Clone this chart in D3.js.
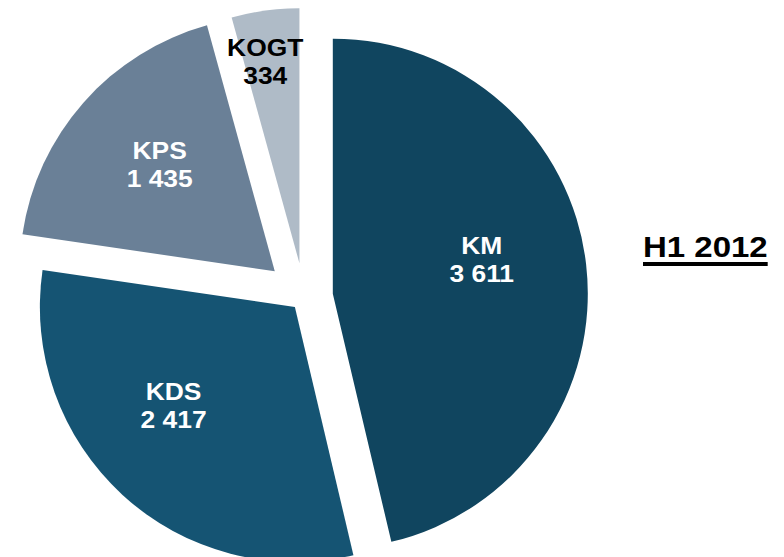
<!DOCTYPE html>
<html>
<head>
<meta charset="utf-8">
<script src="https://cdn.jsdelivr.net/npm/d3@7"></script>
<style>
  html, body { margin: 0; padding: 0; background: #ffffff; }
  svg { display: block; }
</style>
</head>
<body>
<svg id="chart" width="784" height="557"></svg>
<script>
// ---- data ----
const categories = ["KM", "KDS", "KPS", "KOGT"];
const values = [3611, 2417, 1435, 334];
const valueLabels = ["3 611", "2 417", "1 435", "334"];
const title = "H1 2012";

// ---- styling ----
const colors = ["#10455f", "#155473", "#6a8097", "#afbbc7"];
const labelColors = ["#ffffff", "#ffffff", "#ffffff", "#000000"];
const explode = [29, 13.5, 39, 34];          // px offset of each slice along its bisector
const labelRadius = [153, 156, 157, 205];     // distance of label from slice apex
const labelAngleShift = [-6.6, 8.5, 1.4, -1.9]; // degrees from bisector
const textStretch = 1.1;

const W = 784, H = 557;
const cx = 304, cy = 297, R = 255;

const svg = d3.select("#chart");

const data = categories.map((c, i) => ({ name: c, value: values[i], label: valueLabels[i], i }));

const pie = d3.pie().sort(null).value(d => d.value).startAngle(0).endAngle(2 * Math.PI);
const arcs = pie(data);
const arc = d3.arc().innerRadius(0).outerRadius(R);

const g = svg.append("g").attr("transform", `translate(${cx},${cy})`);

const slices = g.selectAll("g.slice")
  .data(arcs)
  .join("g")
  .attr("class", "slice")
  .attr("transform", d => {
    const mid = (d.startAngle + d.endAngle) / 2;
    const e = explode[d.data.i];
    return `translate(${e * Math.sin(mid)},${-e * Math.cos(mid)})`;
  });

slices.append("path")
  .attr("d", arc)
  .attr("fill", d => colors[d.data.i]);

const labels = slices.append("text")
  .attr("text-anchor", "middle")
  .attr("font-family", "Liberation Sans, Arial, sans-serif")
  .attr("font-weight", "bold")
  .attr("font-size", 24)
  .attr("fill", d => labelColors[d.data.i])
  .attr("transform", d => {
    const mid = (d.startAngle + d.endAngle) / 2 + labelAngleShift[d.data.i] * Math.PI / 180;
    const r = labelRadius[d.data.i];
    return `translate(${r * Math.sin(mid)},${-r * Math.cos(mid)}) scale(${textStretch},1)`;
  });

labels.append("tspan").attr("x", 0).attr("y", -5).text(d => d.data.name);
labels.append("tspan").attr("x", 0).attr("y", 23).text(d => d.data.label);

// ---- title ----
const t = svg.append("text")
  .attr("transform", `translate(643,257) scale(${textStretch},1)`)
  .attr("font-family", "Liberation Sans, Arial, sans-serif")
  .attr("font-weight", "bold")
  .attr("font-size", 30)
  .attr("fill", "#000000")
  .text(title);
const bb = t.node().getBBox();
svg.append("rect")
  .attr("x", 643 + bb.x * textStretch)
  .attr("y", 262)
  .attr("width", bb.width * textStretch)
  .attr("height", 4)
  .attr("fill", "#000000");
</script>
</body>
</html>
